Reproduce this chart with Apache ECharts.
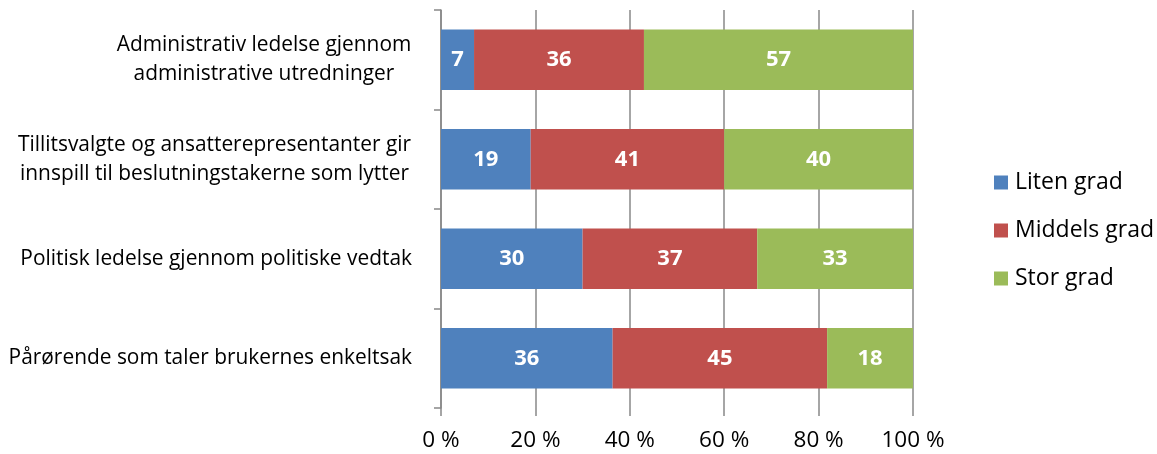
<!DOCTYPE html>
<html lang="no">
<head>
  <meta charset="UTF-8">
  <title>Stablet stolpediagram</title>
  <script src="https://cdn.jsdelivr.net/npm/echarts@6/dist/echarts.min.js"></script>
  <style>
    html, body { margin: 0; padding: 0; background: #fff; }
    #main { width: 1157px; height: 454px; }
  </style>
</head>
<body>
  <div id="main"></div>
  <script type="text/javascript">
    // data
    var categories = [
      'Administrativ ledelse gjennom\nadministrative utredninger',
      'Tillitsvalgte og ansatterepresentanter gir\ninnspill til beslutningstakerne som lytter',
      'Politisk ledelse gjennom politiske vedtak',
      'Pårørende som taler brukernes enkeltsak'
    ];
    var seriesNames = ['Liten grad', 'Middels grad', 'Stor grad'];
    var liten = [7, 19, 30, 36.36];
    var middels = [36, 41, 37, 45.45];
    var stor = [57, 40, 33, 18.18];
    var xTicks = [0, 20, 40, 60, 80, 100];

    var colors = ['#4F81BD', '#C0504D', '#9BBB59'];
    var fontFam = '"Open Sans", sans-serif';
    var catSize = 20.9;

    // multi-line category labels: centre each line inside the label block
    var ctx = document.createElement('canvas').getContext('2d');
    ctx.font = catSize + 'px "Open Sans"';
    var rich = {};
    categories.forEach(function (c, i) {
      var w = 0;
      c.split('\n').forEach(function (l) { w = Math.max(w, ctx.measureText(l).width); });
      rich['c' + i] = { width: Math.ceil(w) + 1, align: 'center', fontSize: catSize, fontFamily: fontFam, color: '#000', lineHeight: 29 };
    });

    var myChart = echarts.init(document.getElementById('main'));

    function makeSeries(name, data, idx) {
      return {
        name: name,
        type: 'bar',
        stack: 'total',
        data: data,
        barCategoryGap: '39%',
        itemStyle: { color: colors[idx] },
        label: {
          show: true,
          position: 'inside',
          color: '#fff',
          fontWeight: 'bold',
          fontSize: 22,
          fontFamily: fontFam,
          formatter: function (p) { return Math.round(p.value); }
        }
      };
    }

    var option = {
      animation: false,
      textStyle: { fontFamily: fontFam },
      legend: {
        orient: 'vertical',
        left: 989,
        top: 166,
        itemWidth: 14,
        itemHeight: 14,
        itemGap: 25,
        icon: 'rect',
        data: seriesNames,
        textStyle: { fontSize: 23, color: '#000', fontFamily: fontFam, padding: [0, 0, 0, 2] }
      },
      grid: { left: 441, right: 244, top: 10, bottom: 46 },
      xAxis: {
        type: 'value',
        min: 0,
        max: 100,
        interval: 20,
        axisLine: { show: false },
        axisTick: { show: true, length: 8, lineStyle: { color: '#888', width: 1.5 } },
        splitLine: { show: true, lineStyle: { color: '#888', width: 1.5 } },
        axisLabel: {
          fontSize: 22.5,
          color: '#000',
          margin: 21,
          fontFamily: fontFam,
          formatter: function (v) { return xTicks.indexOf(v) >= 0 ? v + ' %' : ''; }
        }
      },
      yAxis: {
        type: 'category',
        inverse: true,
        data: categories,
        axisLine: { show: true, lineStyle: { color: '#888', width: 1.5 } },
        axisTick: { show: true, length: 7, lineStyle: { color: '#888', width: 1.5 } },
        axisLabel: {
          margin: 29,
          fontSize: catSize,
          lineHeight: 29,
          color: '#000',
          fontFamily: fontFam,
          rich: rich,
          formatter: function (v, i) {
            if (v.indexOf('\n') < 0) return v;
            return v.split('\n').map(function (l) { return '{c' + i + '|' + l + '}'; }).join('\n');
          }
        }
      },
      series: [
        makeSeries(seriesNames[0], liten, 0),
        makeSeries(seriesNames[1], middels, 1),
        makeSeries(seriesNames[2], stor, 2)
      ]
    };
    myChart.setOption(option);
  </script>
</body>
</html>
